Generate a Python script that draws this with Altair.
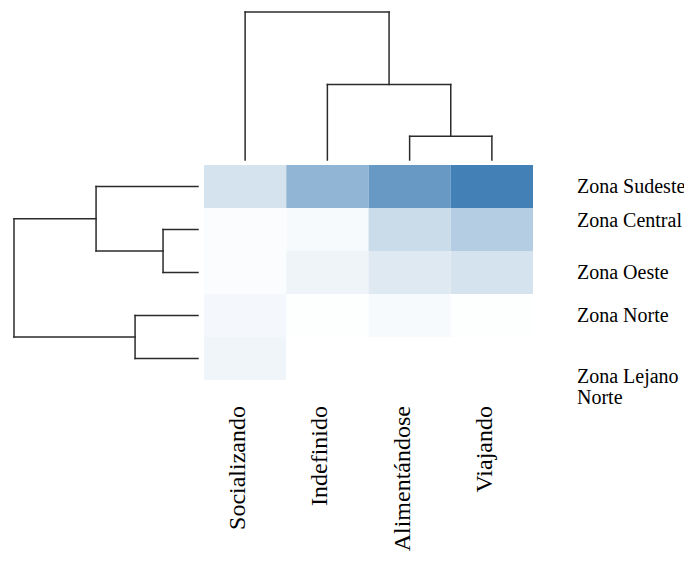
import altair as alt
import pandas as pd

# ---------------- data ----------------
columns = ["Socializando", "Indefinido", "Alimentándose", "Viajando"]
rows = ["Zona Sudeste", "Zona Central", "Zona Oeste", "Zona Norte", "Zona Lejano Norte"]
row_label_lines = ["Zona Sudeste", "Zona Central", "Zona Oeste", "Zona Norte", "Zona Lejano\nNorte"]

val_sudeste = [0.22, 0.58, 0.80, 1.00]
val_central = [0.02, 0.04, 0.28, 0.39]
val_oeste = [0.02, 0.09, 0.17, 0.22]
val_norte = [0.06, 0.01, 0.04, 0.01]
val_lejano = [0.08, 0.00, 0.00, 0.00]
values = [val_sudeste, val_central, val_oeste, val_norte, val_lejano]

# dendrogram merges: (child_a, child_b, height); leaves 0..n-1, new nodes n, n+1, ...
col_merges = [(2, 3, 0.16), (1, 4, 0.51), (0, 5, 1.00)]
row_merges = [(1, 2, 0.19), (0, 5, 0.554), (3, 4, 0.342), (6, 7, 1.00)]

# ---------------- tables ----------------
cells = []
for r, name in enumerate(rows):
    for c, col in enumerate(columns):
        cells.append(dict(row=name, col=col, r0=r, r1=r + 1, c0=c, c1=c + 1, v=values[r][c]))
cells = pd.DataFrame(cells)


def dendro_segments(n_leaves, merges):
    pos = {i: i + 0.5 for i in range(n_leaves)}
    hgt = {i: 0.0 for i in range(n_leaves)}
    segs = []
    for k, (a, b, h) in enumerate(merges):
        node = n_leaves + k
        segs.append(dict(p1=pos[a], p2=pos[a], h1=hgt[a], h2=h))
        segs.append(dict(p1=pos[b], p2=pos[b], h1=hgt[b], h2=h))
        segs.append(dict(p1=pos[a], p2=pos[b], h1=h, h2=h))
        pos[node] = (pos[a] + pos[b]) / 2
        hgt[node] = h
    return pd.DataFrame(segs)


top_segs = dendro_segments(len(columns), col_merges)
left_segs = dendro_segments(len(rows), row_merges)

col_labels = pd.DataFrame(dict(label=columns, cx=[i + 0.5 for i in range(len(columns))]))
row_labels = pd.DataFrame(dict(label=row_label_lines, key=rows, ry=[i + 0.5 for i in range(len(rows))]))

# ---------------- scales ----------------
col_scale = alt.Scale(domain=[0, 4], range=[196, 525], nice=False, zero=False)
row_scale = alt.Scale(domain=[0, 5], range=[157, 372], nice=False, zero=False)
top_h_scale = alt.Scale(domain=[0, 1], range=[152, 4], nice=False, zero=False)
left_h_scale = alt.Scale(domain=[0, 1], range=[190, 6], nice=False, zero=False)

LINE = "#2b2b2b"
FONT = "Liberation Serif"

heat = alt.Chart(cells).mark_rect(strokeWidth=0).encode(
    x=alt.X("c0:Q", scale=col_scale, axis=None),
    x2="c1:Q",
    y=alt.Y("r0:Q", scale=row_scale, axis=None),
    y2="r1:Q",
    color=alt.Color("v:Q", scale=alt.Scale(domain=[0, 1], range=["#ffffff", "#4280b5"], interpolate="rgb"), legend=None),
)

top_dendro = alt.Chart(top_segs).mark_rule(color=LINE, strokeWidth=1.5, strokeCap="square").encode(
    x=alt.X("p1:Q", scale=col_scale, axis=None),
    x2="p2:Q",
    y=alt.Y("h1:Q", scale=top_h_scale, axis=None),
    y2="h2:Q",
)

left_dendro = alt.Chart(left_segs).mark_rule(color=LINE, strokeWidth=1.5, strokeCap="square").encode(
    x=alt.X("h1:Q", scale=left_h_scale, axis=None),
    x2="h2:Q",
    y=alt.Y("p1:Q", scale=row_scale, axis=None),
    y2="p2:Q",
)

col_text = alt.Chart(col_labels).mark_text(
    angle=270, align="right", baseline="alphabetic", font=FONT, fontSize=24, color="black"
).encode(
    x=alt.X("cx:Q", scale=col_scale, axis=None),
    y=alt.value(398),
    text="label:N",
)

row_base = alt.Chart(row_labels).mark_text(
    align="left", baseline="middle", font=FONT, fontSize=20, color="black", lineBreak="\n", lineHeight=21
)

row_text_main = row_base.transform_filter(
    alt.FieldOneOfPredicate(field="key", oneOf=["Zona Sudeste", "Zona Oeste", "Zona Norte"])
).encode(
    x=alt.value(569),
    y=alt.Y("ry:Q", scale=row_scale, axis=None),
    text="label:N",
)

row_text_central = alt.Chart(row_labels).mark_text(
    align="left", baseline="middle", font=FONT, fontSize=20, color="black", dy=-9
).transform_filter(alt.datum.key == "Zona Central").encode(
    x=alt.value(569),
    y=alt.Y("ry:Q", scale=row_scale, axis=None),
    text="label:N",
)

row_text_lejano = alt.Chart(row_labels).mark_text(
    align="left", baseline="middle", font=FONT, fontSize=20, color="black", lineBreak="\n", lineHeight=21, dy=18
).transform_filter(alt.datum.key == "Zona Lejano Norte").encode(
    x=alt.value(569),
    y=alt.Y("ry:Q", scale=row_scale, axis=None),
    text="label:N",
)

chart = alt.layer(
    heat, top_dendro, left_dendro, col_text, row_text_main, row_text_central, row_text_lejano
).resolve_scale(
    x="independent", y="independent", color="independent"
).properties(
    width=676, height=547, padding=0, autosize=alt.AutoSizeParams(type="none")
).configure_view(stroke=None)

chart.save("out.html", embed_options={"renderer": "svg", "actions": False})
